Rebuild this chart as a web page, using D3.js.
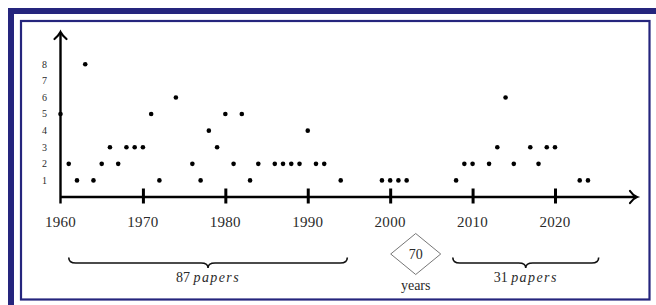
<!DOCTYPE html>
<html>
<head>
<meta charset="utf-8">
<script src="https://cdn.jsdelivr.net/npm/d3@7"></script>
<style>
  html, body { margin: 0; padding: 0; background: #fff; }
  svg { display: block; }
</style>
</head>
<body>
<svg id="chart" width="656" height="305" font-family="'Liberation Serif', 'DejaVu Serif', serif"></svg>
<script>
// ---- data ----
const years  = [1960,1961,1962,1963,1964,1965,1966,1967,1968,1969,1970,1971,1972,1974,1976,1977,1978,1979,
                1980,1981,1982,1983,1984,1986,1987,1988,1989,1990,1991,1992,1994,
                1999,2000,2001,2002,
                2008,2009,2010,2012,2013,2014,2015,2017,2018,2019,2020,2023,2024];
const counts = [5,2,1,8,1,2,3,2,3,3,3,5,1,6,2,1,4,3,
                5,2,5,1,2,2,2,2,2,4,2,2,1,
                1,1,1,1,
                1,2,2,2,3,6,2,3,2,3,3,1,1];
const xTicks = [1960,1970,1980,1990,2000,2010,2020];
const yTicks = [1,2,3,4,5,6,7,8];
const groups = [
  {from: 1961, to: 1994.8, num: "87", word: "papers"},
  {from: 2007.6, to: 2025.3, num: "31", word: "papers"}
];
const gapLabel = {year: 2003.1, num: "70", word: "years"};

// ---- layout ----
const svg = d3.select("#chart");
const navy = "#25257d";
const ink = "#2a2a2a";

// frame
svg.append("path")
  .attr("d", "M11,305 L11,11 L656,11")
  .attr("fill", "none").attr("stroke", navy).attr("stroke-width", 6);
svg.append("rect")
  .attr("x", 21).attr("y", 21).attr("width", 628.5).attr("height", 278.5)
  .attr("fill", "none").attr("stroke", navy).attr("stroke-width", 2.2);

const x = d3.scaleLinear().domain([1960, 2020]).range([60.5, 555]);
const y = d3.scaleLinear().domain([0, 8]).range([197, 64.3]);
const axisY = 197;

// x axis line with arrow
svg.append("line")
  .attr("x1", x(1960)).attr("x2", 636).attr("y1", axisY).attr("y2", axisY)
  .attr("stroke", "#000").attr("stroke-width", 2.4);
svg.append("path")
  .attr("d", `M630,${axisY-6} Q633,${axisY-1.5} 637,${axisY} Q633,${axisY+1.5} 630,${axisY+6}`)
  .attr("fill", "none").attr("stroke", "#000").attr("stroke-width", 2.2).attr("stroke-linecap", "round");

// y axis line with arrow
svg.append("line")
  .attr("x1", x(1960)).attr("x2", x(1960)).attr("y1", 203.5).attr("y2", 33)
  .attr("stroke", "#000").attr("stroke-width", 2.4);
svg.append("path")
  .attr("d", `M${x(1960)-6},39 Q${x(1960)-1.5},35 ${x(1960)},32 Q${x(1960)+1.5},35 ${x(1960)+6},39`)
  .attr("fill", "none").attr("stroke", "#000").attr("stroke-width", 2.2).attr("stroke-linecap", "round");

// x ticks
const xAxis = d3.axisBottom(x).tickValues(xTicks.slice(1)).tickSize(0).tickFormat("");
const gx = svg.append("g").attr("transform", `translate(0,${axisY})`).call(xAxis);
gx.select(".domain").remove();
gx.selectAll(".tick").append("line")
  .attr("y1", -8.5).attr("y2", 6.5).attr("stroke", "#000").attr("stroke-width", 3);

svg.append("g").selectAll("text").data(xTicks).join("text")
  .attr("x", d => x(d)).attr("y", 227)
  .attr("text-anchor", "middle").attr("font-size", 15).attr("fill", ink)
  .attr("letter-spacing", 0.3)
  .text(d => d);

// y tick labels
svg.append("g").selectAll("text").data(yTicks).join("text")
  .attr("x", 47).attr("y", d => y(d) + 3.3)
  .attr("text-anchor", "end").attr("font-size", 10).attr("fill", ink)
  .text(d => d);

// points
svg.append("g").selectAll("circle").data(years.map((yr, i) => ({yr, c: counts[i]}))).join("circle")
  .attr("cx", d => x(d.yr)).attr("cy", d => y(d.c)).attr("r", 2.3).attr("fill", "#000");

// braces
function brace(x1, x2, y0) {
  const xm = (x1 + x2) / 2, ym = y0 + 5.5, yt = y0 + 10.5, r = 7;
  return `M${x1},${y0} Q${x1},${ym} ${x1+r},${ym} L${xm-r},${ym} Q${xm},${ym} ${xm},${yt}` +
         ` Q${xm},${ym} ${xm+r},${ym} L${x2-r},${ym} Q${x2},${ym} ${x2},${y0}`;
}
groups.forEach(g => {
  const x1 = x(g.from), x2 = x(g.to), xm = (x1 + x2) / 2;
  svg.append("path").attr("d", brace(x1, x2, 257.5))
    .attr("fill", "none").attr("stroke", "#111").attr("stroke-width", 1.6);
  const t = svg.append("text").attr("x", xm).attr("y", 282)
    .attr("text-anchor", "middle").attr("font-size", 14).attr("fill", ink);
  t.append("tspan").text(g.num + " ");
  t.append("tspan").attr("font-style", "italic").attr("letter-spacing", 1.4).text(g.word);
});

// gap diamond
const dx = x(gapLabel.year), dy = 254;
svg.append("path")
  .attr("d", `M${dx},${dy-20.5} L${dx+25},${dy} L${dx},${dy+20.5} L${dx-25},${dy} Z`)
  .attr("fill", "#fff").attr("stroke", "#666").attr("stroke-width", 0.9);
svg.append("text").attr("x", dx).attr("y", dy + 5)
  .attr("text-anchor", "middle").attr("font-size", 14).attr("fill", ink).text(gapLabel.num);
svg.append("text").attr("x", dx).attr("y", 290)
  .attr("text-anchor", "middle").attr("font-size", 14).attr("fill", ink).text(gapLabel.word);
</script>
</body>
</html>
